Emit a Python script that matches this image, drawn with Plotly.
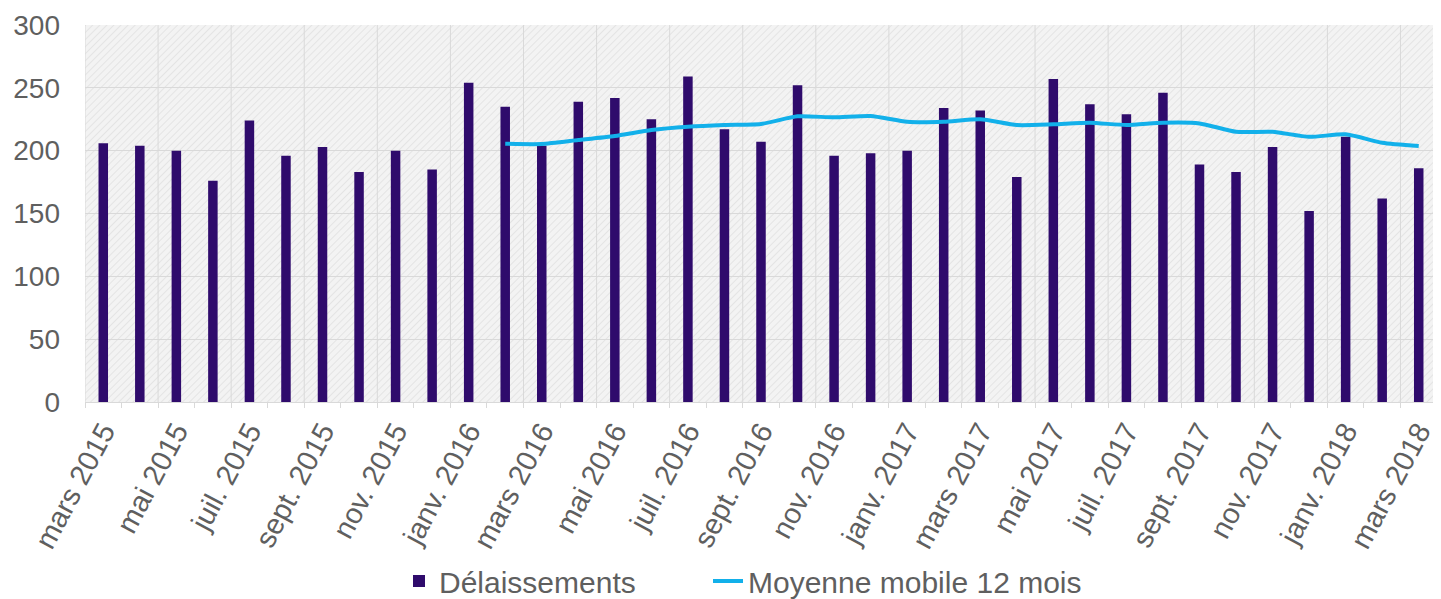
import plotly.graph_objects as go
import base64

# ---- data ----
months = ["mars 2015", "avr. 2015", "mai 2015", "juin 2015", "juil. 2015", "août 2015",
          "sept. 2015", "oct. 2015", "nov. 2015", "déc. 2015", "janv. 2016", "févr. 2016",
          "mars 2016", "avr. 2016", "mai 2016", "juin 2016", "juil. 2016", "août 2016",
          "sept. 2016", "oct. 2016", "nov. 2016", "déc. 2016", "janv. 2017", "févr. 2017",
          "mars 2017", "avr. 2017", "mai 2017", "juin 2017", "juil. 2017", "août 2017",
          "sept. 2017", "oct. 2017", "nov. 2017", "déc. 2017", "janv. 2018", "févr. 2018",
          "mars 2018"]
delaissements = [206, 204, 200, 176, 224, 196, 203, 183, 200, 185, 254, 235,
                 204, 239, 242, 225, 259, 217, 207, 252, 196, 198, 200, 234,
                 232, 179, 257, 237, 229, 246, 189, 183, 203, 152, 211, 162, 186]
moyenne_mobile = [None] * 11 + [205.5, 205.3, 208.4, 211.6, 216.4, 219, 220.4, 221.2,
                                227.3, 226.5, 227.6, 223, 223, 225, 220.4, 221, 222.2,
                                220.4, 222.2, 221.7, 215, 215, 211, 213, 206.3, 203.7]

x_idx = list(range(len(months)))
label_vals = x_idx[::2]
label_text = [months[i] for i in label_vals]

FONT = "Liberation Sans, Arial, sans-serif"
GREY = "#5f5f5f"

# page body has an 8px margin: compensate so the plot area lands where the reference has it
PAGE_OFF = 8
PLOT_L, PLOT_R, PLOT_T, PLOT_B = 85, 1437, 25, 402
FIG_W, FIG_H = 1441 - PAGE_OFF, 599 - PAGE_OFF
PW, PH = PLOT_R - PLOT_L, PLOT_B - PLOT_T

fig = go.Figure()
fig.add_trace(go.Bar(x=x_idx, y=delaissements, name="Délaissements",
                     marker=dict(color="#2f0b6c", line=dict(width=0)), width=0.26,
                     legend="legend"))
fig.add_trace(go.Scatter(x=x_idx, y=moyenne_mobile, name="Moyenne mobile 12 mois",
                         mode="lines", line=dict(color="#12b0ea", width=4, shape="spline",
                                                 smoothing=0.6),
                         legend="legend2"))

# hatched background for plot area
svg = (f'<svg xmlns="http://www.w3.org/2000/svg" width="{PW}" height="{PH}">'
       '<defs><pattern id="p" width="5" height="5" patternUnits="userSpaceOnUse" '
       'patternTransform="rotate(45)"><rect width="5" height="5" fill="#f3f3f3"/>'
       '<line x1="0" y1="0" x2="0" y2="5" stroke="#dedede" stroke-width="1.4"/></pattern></defs>'
       f'<rect width="{PW}" height="{PH}" fill="url(#p)"/></svg>')
src = "data:image/svg+xml;base64," + base64.b64encode(svg.encode()).decode()
fig.add_layout_image(dict(source=src, xref="paper", yref="paper", x=0, y=1, sizex=1, sizey=1,
                          sizing="stretch", layer="below", xanchor="left", yanchor="top"))

# vertical gridlines every two months (between bars)
for b in [i - 0.5 for i in range(0, len(months) + 1, 2)]:
    fig.add_shape(type="line", x0=b, x1=b, y0=0, y1=1, xref="x", yref="paper",
                  line=dict(color="#d9d9d9", width=1), layer="below")

leg_common = dict(orientation="h", xanchor="left", y=-(581 - PLOT_B) / PH, yanchor="middle",
                  font=dict(size=30, color=GREY, family=FONT), itemwidth=30,
                  bgcolor="rgba(0,0,0,0)")

fig.update_layout(
    width=FIG_W, height=FIG_H,
    margin=dict(l=PLOT_L - PAGE_OFF, r=FIG_W - (PLOT_R - PAGE_OFF),
                t=PLOT_T - PAGE_OFF, b=FIG_H - (PLOT_B - PAGE_OFF), autoexpand=False),
    paper_bgcolor="white", plot_bgcolor="rgba(0,0,0,0)",
    font=dict(family=FONT, size=28, color=GREY),
    showlegend=True,
    legend=dict(x=(399 - PLOT_L) / PW, **leg_common),
    legend2=dict(x=(708 - PLOT_L) / PW, **leg_common),
)
fig.update_xaxes(range=[-0.5, len(months) - 0.5], tickmode="array", tickvals=label_vals,
                 ticktext=label_text, tickangle=-62, showgrid=False, zeroline=False,
                 showline=True, linecolor="#d9d9d9", ticks="", automargin=False,
                 tickfont=dict(size=29, color=GREY, family=FONT),
                 minor=dict(tickmode="array", tickvals=[i - 0.5 for i in range(len(months) + 1)],
                            ticks="outside", ticklen=5, tickcolor="#d9d9d9", showgrid=False))
fig.update_yaxes(range=[0, 300], tickvals=[0, 50, 100, 150, 200, 250, 300],
                 showgrid=True, gridcolor="#d9d9d9", gridwidth=1, zeroline=False,
                 showline=False, ticks="", ticklabelstandoff=24, automargin=False,
                 tickfont=dict(size=28, color=GREY, family=FONT))

fig.write_html("out.html")
